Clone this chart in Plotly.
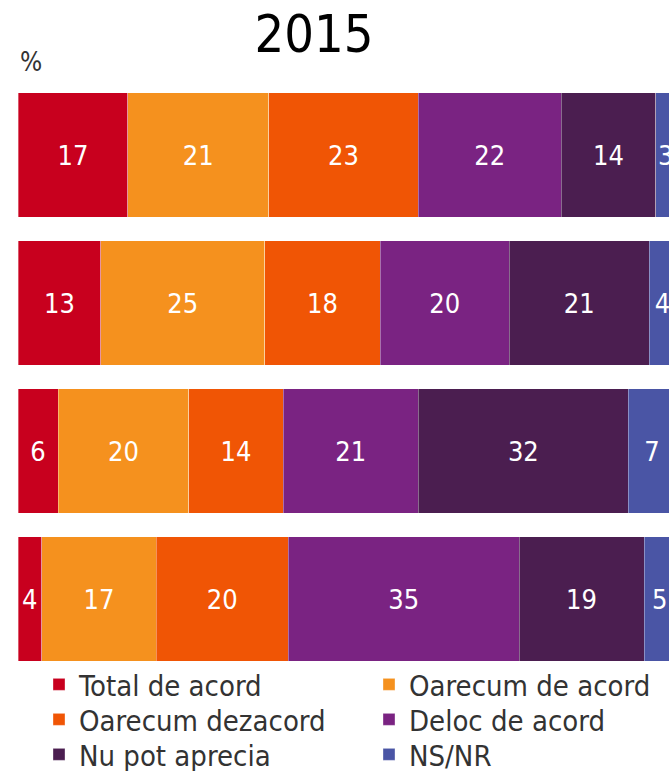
import plotly.graph_objects as go

rows = ["1", "2", "3", "4"]
series = ["Total de acord", "Oarecum de acord", "Oarecum dezacord",
          "Deloc de acord", "Nu pot aprecia", "NS/NR"]
# values (labels show rounded values)
total_de_acord = [16.7, 12.6, 6.1, 3.6]
oarecum_de_acord = [21.4, 24.9, 19.9, 17.4]
oarecum_dezacord = [22.8, 17.6, 14.3, 20.1]
deloc_de_acord = [21.7, 19.6, 20.6, 35.1]
nu_pot_aprecia = [14.4, 21.3, 31.9, 19.0]
ns_nr = [3.0, 4.0, 7.2, 4.8]
values = [total_de_acord, oarecum_de_acord, oarecum_dezacord,
          deloc_de_acord, nu_pot_aprecia, ns_nr]
colors = ["#C8001E", "#F5911E", "#F05505", "#7A2382", "#4B1E50", "#4A55A5"]

FONT = "DejaVu Sans Condensed, DejaVu Sans, sans-serif"
legend_ids = ["legend", "legend2", "legend3", "legend4", "legend5", "legend6"]

fig = go.Figure()
for name, vals, col, lg in zip(series, values, colors, legend_ids):
    fig.add_trace(go.Bar(
        y=rows, x=vals, name=name, orientation="h", legend=lg,
        marker=dict(color=col, line=dict(color="rgba(255,255,255,0.35)", width=1)),
        texttemplate="%{x:.0f}", textposition="inside",
        insidetextanchor="middle", constraintext="none",
        textfont=dict(color="white", size=27, family=FONT),
        hoverinfo="skip",
    ))

# legend grid: 2 columns x 3 rows
col_x = [39, 369]
row_top = [659, 694, 729]
legend_layout = {}
for i, lg in enumerate(legend_ids):
    legend_layout[lg] = dict(
        xref="container", yref="container",
        x=col_x[i % 2] / 669, xanchor="left",
        y=1 - row_top[i // 2] / 771, yanchor="top",
        font=dict(size=29, color="#333333", family=FONT),
        bgcolor="rgba(0,0,0,0)", itemclick=False, itemdoubleclick=False,
    )

fig.update_layout(
    width=669, height=771,
    barmode="stack", bargap=0.162,
    plot_bgcolor="white", paper_bgcolor="white",
    margin=dict(l=18, r=0, t=81, b=98, autoexpand=False),
    font=dict(family=FONT, color="#333333"),
    title=dict(text="2015", x=314/669, xanchor="center", y=1-34/771, yanchor="middle",
               font=dict(size=52, color="black", family=FONT)),
    xaxis=dict(range=[0, 99], visible=False, fixedrange=True),
    yaxis=dict(autorange="reversed", visible=False, categoryorder="array",
               categoryarray=rows, fixedrange=True),
    showlegend=True,
    annotations=[dict(text="%", xref="paper", yref="paper",
                      x=0, y=(673-62)/592, xanchor="left", yanchor="middle",
                      showarrow=False, font=dict(size=26, color="#333333", family=FONT))],
    **legend_layout,
)

fig.write_html(
    "out.html",
    config={"displayModeBar": False},
    post_script="document.documentElement.style.margin='0';document.body.style.margin='0';"
                "document.documentElement.style.overflow='hidden';document.body.style.overflow='hidden';",
)
